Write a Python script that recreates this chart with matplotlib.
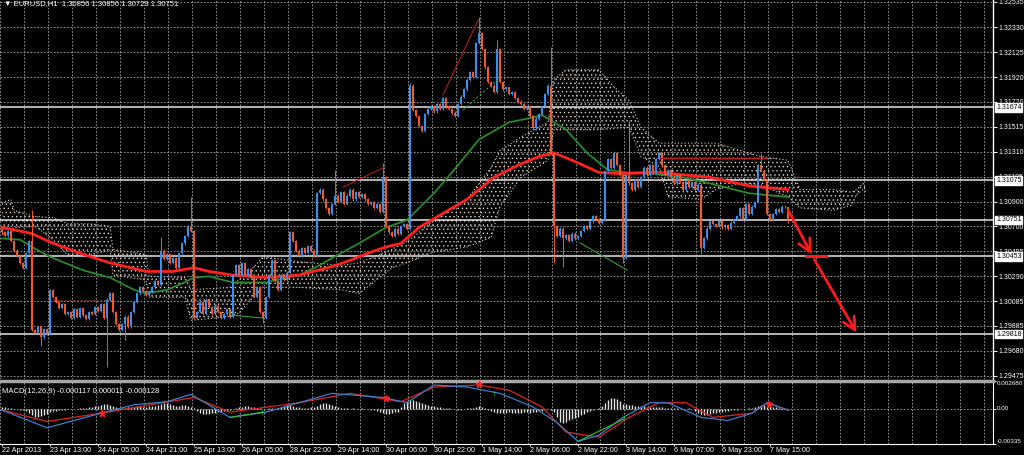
import matplotlib
matplotlib.use('Agg')
import matplotlib.pyplot as plt
import numpy as np
from matplotlib.transforms import blended_transform_factory

plt.rcParams['font.family'] = ['Liberation Sans', 'DejaVu Sans']
plt.rcParams['hatch.linewidth'] = 0.5

# ---- EURUSD H1 candles (close of each bar, open = previous close) ----
first_open = 1.3068
closes = [
    1.3065, 1.3062, 1.3066, 1.3058, 1.3050, 1.3046, 1.3040, 1.3036, 1.3048, 1.3058,
    1.2985, 1.2983, 1.2988, 1.2979, 1.2986, 1.2982, 1.3018, 1.3012, 1.3008, 1.3003, 1.3006, 1.2998, 1.3000,
    1.2995, 1.3002, 1.2996, 1.3003, 1.2997, 1.2994, 1.3000, 1.2998, 1.3004, 1.3001,
    1.3006, 1.2995, 1.3010, 1.3015, 1.3000, 1.2990, 1.2985, 1.2990, 1.2996, 1.2988,
    1.3000, 1.3008, 1.3015, 1.3020, 1.3017, 1.3014, 1.3016, 1.3020, 1.3025, 1.3022,
    1.3050, 1.3043, 1.3047, 1.3040, 1.3044, 1.3036, 1.3048, 1.3056, 1.3062, 1.3070, 1.3066,
    1.2995, 1.3000, 1.3008, 1.2998, 1.3010, 1.3004, 1.2998, 1.3005, 1.3000, 1.2995, 1.2998, 1.3002, 1.2996,
    1.3030, 1.3038, 1.3030, 1.3040, 1.3030, 1.3035, 1.3028, 1.3012, 1.3020, 1.3000, 1.2995,
    1.3012, 1.3030, 1.3042, 1.3025, 1.3018, 1.3030, 1.3026, 1.3032, 1.3065, 1.3058, 1.3050, 1.3046,
    1.3052, 1.3048, 1.3054, 1.3050, 1.3046, 1.3097, 1.3100, 1.3092, 1.3085, 1.3080, 1.3088, 1.3095,
    1.3090, 1.3098, 1.3088, 1.3095, 1.3100, 1.3092, 1.3098, 1.3094, 1.3096, 1.3092, 1.3088, 1.3090, 1.3085, 1.3088, 1.3082,
    1.3110, 1.3070, 1.3065, 1.3062, 1.3068, 1.3064, 1.3070, 1.3072, 1.3068,
    1.3185, 1.3165, 1.3160, 1.3152, 1.3148, 1.3162, 1.3166, 1.3168, 1.3164, 1.3170, 1.3166, 1.3175,
    1.3168, 1.3166, 1.3163, 1.3160, 1.3170, 1.3176, 1.3182, 1.3190, 1.3196, 1.3192, 1.3220, 1.3228,
    1.3215, 1.3200, 1.3188, 1.3185, 1.3180, 1.3215, 1.3188, 1.3182, 1.3184, 1.3178, 1.3180, 1.3175, 1.3172,
    1.3170, 1.3166, 1.3168, 1.3160, 1.3150, 1.3158, 1.3162, 1.3168, 1.3178, 1.3185, 1.3130, 1.3070,
    1.3062, 1.3068, 1.3060, 1.3063, 1.3058, 1.3064, 1.3060, 1.3062, 1.3066, 1.3070, 1.3068, 1.3074, 1.3078, 1.3076, 1.3073, 1.3075,
    1.3115, 1.3125, 1.3118, 1.3130, 1.3120, 1.3112, 1.3044, 1.3112, 1.3105, 1.3100, 1.3108, 1.3102,
    1.3110, 1.3118, 1.3112, 1.3120, 1.3114, 1.3125, 1.3130, 1.3120, 1.3112, 1.3116, 1.3110, 1.3105, 1.3112, 1.3106, 1.3100, 1.3108, 1.3102, 1.3106, 1.3100, 1.3104,
    1.3052, 1.3060, 1.3068, 1.3074, 1.3072, 1.3070, 1.3074, 1.3069, 1.3071, 1.3068, 1.3073, 1.3076, 1.3078, 1.3085, 1.3076, 1.3088, 1.3080, 1.3086, 1.3090,
    1.3120, 1.3115, 1.3108, 1.3080, 1.3075, 1.3080, 1.3084, 1.3082, 1.3086, 1.30856, 1.30751,
]
# long wicks (bar index -> price)
high_spikes = {10: 1.3083, 53: 1.3061, 63: 1.3094, 111: 1.3116, 127: 1.3122, 136: 1.3187,
               159: 1.3241, 165: 1.3222, 183: 1.3217, 209: 1.3157, 253: 1.3130, 262: 1.30856}
low_spikes = {13: 1.2972, 35: 1.2955, 41: 1.2977, 87: 1.2991, 184: 1.3040, 187: 1.3037,
              207: 1.3040, 233: 1.3047, 262: 1.30729}

# moving averages (bar index, price)
ma_red_i = [0, 10, 16, 27, 36, 48, 57, 64, 69, 77, 88, 99, 110, 116, 122, 128, 133, 139, 155, 164,
            172, 179, 184, 190, 199, 206, 219, 236, 249, 262]
ma_red_p = [1.3069, 1.3064, 1.3057, 1.3047, 1.3040, 1.3033, 1.3033, 1.3036, 1.3033, 1.3030, 1.3028,
            1.3030, 1.3037, 1.3042, 1.3048, 1.3053, 1.3056, 1.3069, 1.3092, 1.3110, 1.3120, 1.3127,
            1.3130, 1.3124, 1.3114, 1.3113, 1.3114, 1.3110, 1.3103, 1.3100]
ma_green_i = [0, 6, 10, 16, 27, 36, 44, 48, 55, 59, 64, 69, 77, 88, 99, 105, 113, 119, 128, 135, 144,
              150, 159, 169, 177, 180, 188, 195, 202, 208, 213, 227, 236, 244, 249, 257, 262]
ma_green_p = [1.3060, 1.3059, 1.3053, 1.3045, 1.3034, 1.3028, 1.3018, 1.3015, 1.3018, 1.3022, 1.3028,
              1.3029, 1.3024, 1.3024, 1.3030, 1.3037, 1.3048, 1.3056, 1.3069, 1.3075, 1.3097, 1.3114,
              1.3141, 1.3155, 1.3159, 1.3161, 1.3149, 1.3130, 1.3116, 1.3114, 1.3114, 1.3110, 1.3105,
              1.3100, 1.3097, 1.3095, 1.3094]

# ichimoku cloud (bar index, upper span, lower span)
cloud_i = [0, 3, 4, 11, 17, 22, 29, 36, 37, 48, 49, 61, 63, 76, 79, 83, 87, 99, 113, 119, 130, 136,
           144, 155, 163, 166, 173, 182, 184, 188, 199, 204, 209, 213, 219, 222, 233, 238, 246, 253,
           262, 266, 277, 283, 285, 287, 288]
cloud_hi = [1.3089, 1.3092, 1.3083, 1.3078, 1.3077, 1.3072, 1.3072, 1.3070, 1.3051, 1.3047, 1.3029,
            1.3028, 1.3018, 1.3020, 1.3026, 1.3034, 1.3045, 1.3041, 1.3038, 1.3040, 1.3051, 1.3059,
            1.3075, 1.3092, 1.3118, 1.3132, 1.3143, 1.3155, 1.3190, 1.3198, 1.3198, 1.3184, 1.3173,
            1.3151, 1.3138, 1.3138, 1.3138, 1.3138, 1.3132, 1.3127, 1.3124, 1.3100, 1.3100, 1.3098,
            1.3100, 1.3105, 1.3100]
cloud_lo = [1.3063, 1.3065, 1.3069, 1.3070, 1.3059, 1.3046, 1.3046, 1.3051, 1.3030, 1.3026, 1.3012,
            1.3012, 1.2993, 1.2996, 1.2999, 1.3010, 1.3020, 1.3020, 1.3018, 1.3015, 1.3036, 1.3041,
            1.3049, 1.3053, 1.3061, 1.3086, 1.3110, 1.3124, 1.3149, 1.3149, 1.3149, 1.3150, 1.3151,
            1.3127, 1.3119, 1.3094, 1.3092, 1.3100, 1.3105, 1.3104, 1.3094, 1.3085, 1.3083, 1.3087,
            1.3096, 1.3100, 1.3098]

levels = [1.31674, 1.31075, 1.30751, 1.30453, 1.29818]
price_ticks = [1.32535, 1.32330, 1.32125, 1.31920, 1.31720, 1.31515, 1.31310, 1.31105,
               1.30900, 1.30700, 1.30495, 1.30290, 1.30085, 1.29885, 1.29680, 1.29475]

# MACD panel
hist = [2, 2, 1, 1, 0, 0, -1, -1, -2, -4, -6, -8, -8, -7, -6, -5, -3, -2, -2, -1, -1, -1, 0,
        0, 0, 0, 1, 1, 1, 2, 2, 3, 3, 4, 5, 5, 4, 3, 2, 1, 1, 1, 2,
        2, 2, 3, 3, 2, 2, 3, 3, 3, 4, 5, 6, 6, 5, 4, 3, 3, 4, 4, 3, 2, 1,
        -2, -4, -5, -5, -5, -4, -4, -3, -3, -2, -2, -1, 0, 1, 2, 2, 3, 3, 2, 2, 1,
        1, 0, 0, 1, 1, 0, 1, 2, 3, 4, 4, 3, 2, 2, 1, 1, 1, 2, 2, 3, 5, 6, 6, 5, 4, 3, 2,
        1, 1, 1, 0, 1, 0, 0, 1, 0, 0, -1, -1, -2, -3, -4, -5, -5, -4, -3, -3,
        2, 6, 8, 9, 9, 8, 7, 6, 5, 4, 3, 3, 2, 2, 1, 1, 1, 0, 0, -1, -1, 0, 1, 1, 1, 2, 3, 2, 1,
        -1, -2, -3, -4, -4, -4, -4, -3, -4, -4, -4, -4, -3, -3, -4, -3, -3, -2, -2, -1, 0, -1, -3,
        -8, -12, -13, -12, -11, -10, -9, -8, -6, -5, -3, -2, -1, 0, 1, 3, 6, 9, 11, 11, 10, 8,
        5, 5, 4, 4, 3, 3, 3, 3, 2, 2, 2, 2, 2, 2, 1, 1, 1, 1, 1, 0, 0, 0, 1, 0,
        -2, -4, -5, -6, -6, -5, -4, -4, -3, -3, -2, -2, -1, -1, -1, 0, 0, 0, 1, 1, 2, 3,
        4, 4, 3, 3, 2, 2, 1, 1, 0, -1]
hist_scale = 0.0001
macd_i = [0, 15, 33, 44, 55, 63, 76, 88, 99, 110, 127, 135, 144, 155, 166, 177, 185, 192, 199, 207,
          216, 222, 233, 242, 250, 255, 262]
macd_v = [-0.0001, -0.0018, -0.0004, 0.0004, 0.0007, 0.0014, -0.0008, -0.0003, 0.0006, 0.0015,
          0.0011, 0.0006, 0.0023, 0.0021, 0.0015, 0.0002, -0.0013, -0.0031, -0.0025, -0.0008,
          0.0006, 0.0006, -0.0008, -0.0011, -0.0004, 0.0006, -0.0001]
sig_i = [0, 15, 33, 64, 76, 99, 116, 133, 144, 159, 169, 180, 188, 199, 209, 219, 228, 237, 250, 255, 262]
sig_v = [-0.0001, -0.0012, -0.0004, 0.0011, -0.0003, 0.0006, 0.0015, 0.0007, 0.0021, 0.0023,
         0.0018, 0.0002, -0.0022, -0.0027, -0.0008, 0.0006, 0.0006, -0.0008, -0.0004, 0.0006, -0.0001]
buy_marks = [(86.7, -0.0004), (164, 0.0014), (207.3, -0.00096)]
sell_marks = [(33.3, -0.0004), (128, 0.0011), (159, 0.0024), (255.7, 0.0005)]

time_labels = ['22 Apr 2013', '23 Apr 13:00', '24 Apr 05:00', '24 Apr 21:00', '25 Apr 13:00',
               '26 Apr 05:00', '28 Apr 22:00', '29 Apr 14:00', '30 Apr 06:00', '30 Apr 22:00',
               '1 May 14:00', '2 May 06:00', '2 May 22:00', '3 May 14:00', '6 May 07:00',
               '6 May 23:00', '7 May 15:00']

# ---------------------------------------------------------------
W, H = 1024, 455
fig = plt.figure(figsize=(W / 100, H / 100), dpi=100, facecolor='black')
ax = fig.add_axes([0, 1 - 379 / H, 993 / W, 379 / H], facecolor='black')
ax2 = fig.add_axes([0, 1 - 444 / H, 993 / W, 63 / H], facecolor='black')

xmin, xmax = -0.67, 330.33
grid_kw = dict(color='#a8a8a8', lw=0.6, ls=(0, (2, 2)), zorder=0)
for a in (ax, ax2):
    a.set_xlim(xmin, xmax)
    for gx in np.arange(0, 331, 8) - 0.67:
        a.axvline(gx, **grid_kw)

ax.set_ylim(1.29450, 1.32551)
for p in price_ticks:
    ax.axhline(p, **grid_kw)

# cloud
cloud_col = '#ddd1c4'
ax.fill_between(cloud_i, cloud_lo, cloud_hi, facecolor='none', edgecolor=cloud_col,
                hatch='....', linewidth=0, zorder=1)
ax.plot(cloud_i, cloud_hi, color=cloud_col, lw=0.8, ls=(0, (1, 2)), zorder=1)
ax.plot(cloud_i, cloud_lo, color=cloud_col, lw=0.8, ls=(0, (1, 2)), zorder=1)

# level lines
for lv in levels:
    ax.axhline(lv, color='#e6e6e6', lw=1.1, zorder=1.5)

# moving averages
ax.plot(ma_green_i, ma_green_p, color='#2a8a2a', lw=1.3, zorder=2)
ax.plot(ma_red_i, ma_red_p, color='#ff2020', lw=2.0, zorder=2.1)

# candles
c = np.array(closes)
o = np.r_[first_open, c[:-1]]
idx = np.arange(len(c))
hi = np.maximum(o, c) + 0.0001
lo = np.minimum(o, c) - 0.0001
for k, v in high_spikes.items():
    hi[k] = v
for k, v in low_spikes.items():
    lo[k] = v
cols = np.where(c >= o, '#3b8fe8', '#f0592b')
ax.vlines(idx, lo, hi, colors=cols, lw=0.7, zorder=3)
body_lo = np.minimum(o, c)
body_hi = np.maximum(np.maximum(o, c), body_lo + 0.00004)
ax.vlines(idx, body_lo, body_hi, colors=cols, lw=1.5, zorder=3)

# drawn objects
ax.plot([113.7, 127.7], [1.31021, 1.31185], color='#b02020', lw=0.8, zorder=4)
ax.plot([147, 158.7], [1.31774, 1.32387], color='#b02020', lw=0.8, zorder=4)
ax.plot([153.7, 165], [1.31651, 1.31896], color='#3a9a3a', lw=0.8, ls=(0, (2, 2)), zorder=4)
ax.plot([192.7, 208.3], [1.30563, 1.30342], color='#3a9a3a', lw=0.8, zorder=4)
ax.plot([76, 86.7], [1.29974, 1.29949], color='#3a9a3a', lw=0.8, zorder=4)
ax.plot([219.3, 255], [1.31258, 1.31258], color='#c02020', lw=0.9, zorder=4)
ax.plot([17, 36], [1.30096, 1.30096], color='#8a2a2a', lw=0.7, ls=(0, (2, 2)), zorder=4)
arrow_kw = dict(arrowstyle='->,head_length=0.9,head_width=0.45', color='#ff1a1a', lw=2.0)
ax.annotate('', xy=(270.3, 1.30448), xytext=(261.7, 1.30849), arrowprops=arrow_kw, zorder=5)
ax.annotate('', xy=(285.3, 1.29810), xytext=(270.3, 1.30448), arrowprops=arrow_kw, zorder=5)
ax.plot([268, 274.7], [1.30453, 1.30453], color='#ff1a1a', lw=2.2, zorder=5)

# right price scale
ax.yaxis.tick_right()
ax.set_yticks(price_ticks)
ax.set_yticklabels(['%.5f' % p for p in price_ticks])
ax.tick_params(axis='y', colors='white', labelsize=5.0, length=3, width=0.7, pad=1)
ax.set_xticks([])
for s in ('left', 'top', 'bottom'):
    ax.spines[s].set_visible(False)
ax.spines['right'].set_color('white')
ax.spines['right'].set_linewidth(1)

tr = blended_transform_factory(ax.transAxes, ax.transData)
for lv in levels:
    ax.text(1.003, lv, '%.5f' % lv, transform=tr, color='black', fontsize=5.0, va='center',
            ha='left', clip_on=False, zorder=10,
            bbox=dict(boxstyle='square,pad=0.12', fc='white', ec='white'))

ax.text(0.004, 1 - 4 / 379, '\u25bc EURUSD,H1  1.30856 1.30856 1.30729 1.30751', transform=ax.transAxes,
        color='white', fontsize=5.5, va='center', ha='left', zorder=10)

# MACD panel
ax2.set_ylim(-0.00335, 0.00268)
ax2.axhline(0, **grid_kw)
hv = np.array(hist) * hist_scale
ax2.vlines(np.arange(len(hv)), 0, hv, colors='#e4e4e4', lw=1.0, zorder=2)
ax2.plot(sig_i, sig_v, color='#e02424', lw=0.9, zorder=3)
ax2.plot(macd_i, macd_v, color='#3b7fd0', lw=0.9, zorder=3)
ax2.plot([76, 87], [-0.0008, -0.0003], color='#3ac03a', lw=0.8, zorder=3)
ax2.plot([192, 207.3], [-0.0031, -0.00096], color='#3ac03a', lw=0.8, zorder=3)
for bx, by in buy_marks:
    ax2.text(bx, by, '\u2191', color='#30e030', fontsize=7, fontweight='bold', ha='center', va='center', zorder=4)
for sx, sy in sell_marks:
    ax2.plot(sx, sy, marker='*', color='#ff2020', ms=5, zorder=4)

ax2.text(0.002, 0.83, 'MACD(12,26,9) -0.000117 0.000011 -0.000128', transform=ax2.transAxes,
         color='white', fontsize=5.5, va='center', ha='left', zorder=10)

ax2.yaxis.tick_right()
ax2.set_yticks([0.00268, 0.0, -0.00335])
ax2.set_yticklabels(['0.002680', '0.00', '-0.00335'], va='center')
ax2.tick_params(axis='y', colors='white', labelsize=4.5, length=2, width=0.7, pad=0.8)
for t in ax2.get_yticklabels():
    t.set_clip_on(False)
ax2.yaxis.get_ticklabels()[0].set_va('top')
ax2.yaxis.get_ticklabels()[2].set_va('bottom')
ax2.set_xticks(np.arange(len(time_labels)) * 16)
ax2.set_xticklabels(time_labels, ha='left')
ax2.tick_params(axis='x', colors='white', labelsize=5.2, length=1.5, width=0.7, pad=0.5)
ax2.spines['left'].set_visible(False)
ax2.spines['top'].set_color('#a8a8a8')
ax2.spines['top'].set_linewidth(2.5)
ax2.spines['right'].set_color('white')
ax2.spines['bottom'].set_color('white')

fig.savefig('out.png', dpi=100, facecolor='black')
